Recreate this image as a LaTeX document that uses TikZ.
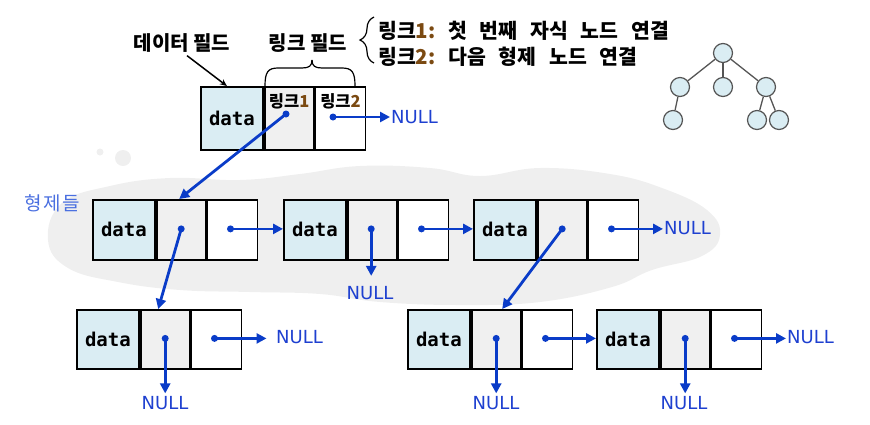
\documentclass[tikz,border=0pt]{standalone}
\usepackage{fontspec}
\newfontfamily\kr{Noto Sans CJK KR}
\newfontfamily\monof{DejaVu Sans Mono}
\newfontfamily\dvs{DejaVu Sans}
\usetikzlibrary{arrows.meta,decorations.pathreplacing,calc}
\definecolor{datafill}{HTML}{DAEDF3}
\definecolor{linkfill}{HTML}{F0F0F0}
\definecolor{arrblue}{HTML}{0A3CC8}
\definecolor{nullblue}{HTML}{1E40D0}
\definecolor{cloudgray}{HTML}{EFEFEF}
\definecolor{numbrown}{HTML}{7B4A12}
\definecolor{sibblue}{HTML}{4A6FE0}
\definecolor{treeline}{HTML}{555555}
\newcommand\hsp{\hspace{0.62em}}
\tikzset{
 cellbase/.style={draw=black, line width=1.8pt, inner sep=0pt, anchor=north west, minimum height=60pt},
 datacell/.style={cellbase, fill=datafill, minimum width=62pt, font=\monof\bfseries\fontsize{19}{19}\selectfont},
 linkacell/.style={cellbase, fill=linkfill, minimum width=49pt},
 linkbcell/.style={cellbase, fill=white, minimum width=50pt},
 dot/.style={circle, fill=arrblue, inner sep=0pt, minimum size=7pt},
 ptr/.style={draw=arrblue, line width=2.8pt, -{Triangle[length=10pt,width=10pt]}},
 nulltxt/.style={text=nullblue, font=\dvs\fontsize{18}{18}\selectfont, inner sep=1pt},
 hdr/.style={font=\kr\bfseries\fontsize{20}{20}\selectfont, inner sep=0pt},
 hdrb/.style={font=\kr\bfseries\fontsize{20.5}{20.5}\selectfont, inner sep=0pt},
 celltxt/.style={font=\kr\bfseries\fontsize{16.5}{16.5}\selectfont, inner sep=0pt},
 tnode/.style={circle, draw=treeline, fill=datafill, line width=1.2pt, minimum size=19pt, inner sep=0pt},
 tedge/.style={draw=treeline, line width=1.3pt},
}
\newcommand\lnode[4]{%
 \node[datacell, minimum height=#4pt] (#1d) at (#2,#3) {data};
 \node[linkacell, minimum height=#4pt] (#1a) at (#1d.north east) {};
 \node[linkbcell, minimum height=#4pt] (#1b) at (#1a.north east) {};
}
\begin{document}
\begin{tikzpicture}[x=1pt,y=-1pt]
\useasboundingbox (0,0) rectangle (870,424);
% cloud
\fill[cloudgray] plot[smooth cycle, tension=0.7] coordinates {(48,240) (62,203) (110,186) (170,178) (240,180) (300,174) (360,166) (430,168) (480,176) (540,168) (610,174) (662,188) (707,210) (720,235) (702,256) (652,270) (612,287) (540,302) (460,305) (380,302) (320,294) (250,292) (180,290) (118,282) (68,268)};
\fill[cloudgray] (123,158) circle (8pt);
\fill[cloudgray] (100,152) circle (3.5pt);
% headers
\node[hdr] (hdata) at (182,43) {데이터 필드};
\node[hdr] (hlink) at (308,43) {링크 필드};
\node[hdrb, anchor=west] (hl1) at (378,31) {링크\textcolor{numbrown}{1:}\hsp 첫\hsp 번째\hsp 자식\hsp 노드\hsp 연결};
\node[hdrb, anchor=west] (hl2) at (378,57) {링크\textcolor{numbrown}{2:}\hsp 다음\hsp 형제\hsp 노드\hsp 연결};
\draw[decorate, decoration={brace, amplitude=14pt}, line width=1.2pt] (374,63) -- (374,17);
% top node
\lnode{T}{200}{86}{63}
\node[celltxt] (Tla) at ($(Ta.north)+(0,15)$) {링크\textcolor{numbrown}{1}};
\node[celltxt] (Tlb) at ($(Tb.north)+(0,15)$) {링크\textcolor{numbrown}{2}};
\draw[line width=1.2pt] (265,86) .. controls (265,72) and (268,68) .. (278,68) -- (302,68) .. controls (309,68) and (312,66) .. (312,60);
\draw[line width=1.2pt] (355,86) .. controls (355,72) and (352,68) .. (342,68) -- (322,68) .. controls (315,68) and (312,66) .. (312,60);
\draw[line width=1.5pt, -{Stealth[length=7pt,width=6pt]}] ($(hdata.south)+(5,3)$) -- ($(Td.north)+(-5,0)$);
\node[dot] (Tp1) at (286,114) {};
\node[dot] (Tp2) at (333,117) {};
\node[nulltxt, anchor=west] (Tnull) at (390,117) {NULL};
% rows
\lnode{A}{92}{199}{60}
\lnode{B}{283}{199}{60}
\lnode{C}{473}{199}{60}
\lnode{E}{76}{309}{59}
\lnode{D}{407}{309}{59}
\lnode{F}{596}{309}{59}
\node[font=\kr\fontsize{19}{19}\selectfont, text=sibblue, inner sep=0pt] (sib) at (52,203) {형\hspace{0.08em}제\hspace{0.08em}들};
% dots
\node[dot] (Ap1) at ($(Aa.center)+(0,-1)$) {};
\node[dot] (Ap2) at ($(Ab.center)+(-2,-1)$) {};
\node[dot] (Bp1) at ($(Ba.center)+(-1,-1)$) {};
\node[dot] (Bp2) at ($(Bb.center)+(-2,-1)$) {};
\node[dot] (Cp1) at ($(Ca.center)+(0,-1)$) {};
\node[dot] (Cp2) at ($(Cb.center)+(-2,-1)$) {};
\node[dot] (Ep1) at ($(Ea.center)+(0,-1)$) {};
\node[dot] (Ep2) at ($(Eb.center)+(-2,-1)$) {};
\node[dot] (Dp1) at ($(Da.center)+(0,-1)$) {};
\node[dot] (Dp2) at ($(Db.center)+(-2,-1)$) {};
\node[dot] (Fp1) at ($(Fa.center)+(0,-1)$) {};
\node[dot] (Fp2) at ($(Fb.center)+(-2,-1)$) {};
% NULL labels
\node[nulltxt] (Bnull) at (370,293) {NULL};
\node[nulltxt, anchor=west] (Cnull) at (663,228) {NULL};
\node[nulltxt] (Enull) at (165,403) {NULL};
\node[nulltxt, anchor=west] (Enull2) at (275,337) {NULL};
\node[nulltxt] (Dnull) at (496,403) {NULL};
\node[nulltxt] (Fnull) at (684,403) {NULL};
\node[nulltxt, anchor=west] (Fnull2) at (786,337) {NULL};
\coordinate (Bend) at ($(Bp1)+(0,47)$);
\coordinate (Eend) at ($(Ep1)+(0,55)$);
\coordinate (Eend2) at ($(Ep2)+(52,0)$);
\coordinate (Dend) at ($(Dp1)+(0,55)$);
\coordinate (Fend) at ($(Fp1)+(0,55)$);
% pointers
\draw[ptr] (Tp1.center) -- ($(Aa.north)+(-2,0)$);
\draw[ptr] (Tp2.center) -- (Tp2.center -| Tnull.west);
\draw[ptr] (Ap1.center) -- ($(Ea.north)+(-7,0)$);
\draw[ptr] (Ap2.center) -- (Ap2.center -| Bd.west);
\draw[ptr] (Bp1.center) -- (Bend);
\draw[ptr] (Bp2.center) -- (Bp2.center -| Cd.west);
\draw[ptr] (Cp1.center) -- ($(Da.north)+(6,0)$);
\draw[ptr] (Cp2.center) -- (Cp2.center -| Cnull.west);
\draw[ptr] (Ep1.center) -- (Eend);
\draw[ptr] (Ep2.center) -- (Eend2);
\draw[ptr] (Dp1.center) -- (Dend);
\draw[ptr] (Dp2.center) -- (Dp2.center -| Fd.west);
\draw[ptr] (Fp1.center) -- (Fend);
\draw[ptr] (Fp2.center) -- (Fp2.center -| Fnull2.west);
% tree icon
\node[tnode] (r0) at (723,53) {};
\node[tnode] (c1) at (680,87) {};
\node[tnode] (c2) at (723,87) {};
\node[tnode] (c3) at (766,87) {};
\node[tnode] (g1) at (673,120) {};
\node[tnode] (g2) at (757,120) {};
\node[tnode] (g3) at (779,120) {};
\draw[tedge] (r0) -- (c1);
\draw[tedge] (r0) -- (c2);
\draw[tedge] (r0) -- (c3);
\draw[tedge] (c1) -- (g1);
\draw[tedge] (c3) -- (g2);
\draw[tedge] (c3) -- (g3);
\end{tikzpicture}
\end{document}
